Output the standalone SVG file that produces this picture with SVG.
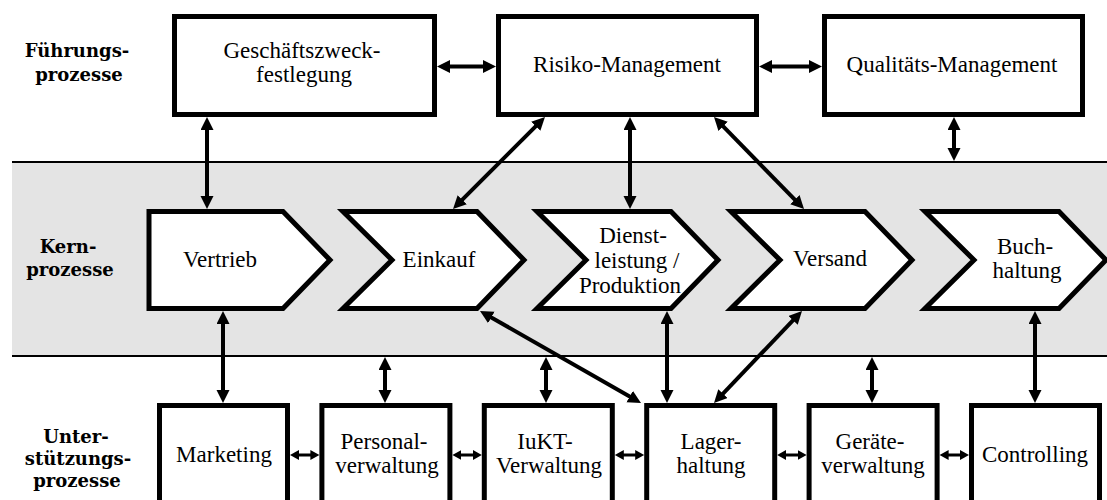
<svg xmlns="http://www.w3.org/2000/svg" width="1107" height="500" viewBox="0 0 1107 500">
<style>
.box{fill:#fff;stroke:#000;stroke-width:5;stroke-linejoin:miter}
.t{font-family:"Liberation Serif","Times New Roman",serif;font-size:23px;fill:#000;text-anchor:middle}
.lbl{font-family:"DejaVu Serif","Liberation Serif",serif;font-size:18px;font-weight:bold;fill:#000;text-anchor:middle}
.c{stroke:#000;stroke-width:4;fill:none;marker-start:url(#ah);marker-end:url(#ah)}
.cs{stroke:#000;stroke-width:3;fill:none;marker-start:url(#as);marker-end:url(#as)}
.band{stroke:#000;stroke-width:2}
</style>
<defs>
<marker id="ah" markerUnits="userSpaceOnUse" markerWidth="14" markerHeight="14" refX="3" refY="6.5" orient="auto-start-reverse"><path d="M0,0 L13,6.5 L0,13 z" fill="#000"/></marker>
<marker id="as" markerUnits="userSpaceOnUse" markerWidth="10" markerHeight="11" refX="2" refY="5" orient="auto-start-reverse"><path d="M0,0 L9,5 L0,10 z" fill="#000"/></marker>
</defs>
<rect x="0" y="0" width="1107" height="500" fill="#fff"/>
<g id="band">
<rect x="12" y="162" width="1095" height="194" fill="#e4e4e4"/>
<line class="band" x1="12" y1="162" x2="1107" y2="162"/>
<line class="band" x1="12" y1="356" x2="1107" y2="356"/>
</g>
<g id="labels">
<text class="lbl" x="77" y="57">Führungs-</text>
<text class="lbl" x="79" y="81">prozesse</text>
<text class="lbl" x="68" y="253">Kern-</text>
<text class="lbl" x="70" y="276">prozesse</text>
<text class="lbl" x="76" y="443">Unter-</text>
<text class="lbl" x="78" y="465">stützungs-</text>
<text class="lbl" x="77" y="487">prozesse</text>
</g>
<g id="connectors">
<line class="c" x1="447" y1="66.5" x2="486" y2="66.5"/>
<line class="c" x1="769" y1="66.5" x2="812" y2="66.5"/>
<line class="c" x1="207" y1="127" x2="207" y2="199"/>
<line class="c" x1="537.9" y1="124.1" x2="460.1" y2="201.9"/>
<line class="c" x1="630" y1="127" x2="630" y2="199"/>
<line class="c" x1="721" y1="124.2" x2="797" y2="201.8"/>
<line class="c" x1="954" y1="127" x2="954" y2="151"/>
<line class="c" x1="223" y1="321" x2="223" y2="393"/>
<line class="c" x1="488.7" y1="316" x2="632.3" y2="398"/>
<line class="c" x1="667" y1="321" x2="667" y2="393"/>
<line class="c" x1="795.1" y1="318.2" x2="720.9" y2="395.8"/>
<line class="c" x1="1035" y1="321" x2="1035" y2="393"/>
<line class="c" x1="385" y1="367" x2="385" y2="393"/>
<line class="c" x1="546" y1="367" x2="546" y2="393"/>
<line class="c" x1="872" y1="367" x2="872" y2="393"/>
<line class="cs" x1="297" y1="455" x2="312.4" y2="455"/>
<line class="cs" x1="459.4" y1="455" x2="474.8" y2="455"/>
<line class="cs" x1="621.8" y1="455" x2="637.2" y2="455"/>
<line class="cs" x1="784.2" y1="455" x2="799.6" y2="455"/>
<line class="cs" x1="946.6" y1="455" x2="962" y2="455"/>
</g>
<g id="geschaeftszweck">
<rect class="box" x="174.5" y="16.5" width="260" height="98"/>
<text class="t" x="302" y="58">Geschäftszweck-</text>
<text class="t" x="304" y="82">festlegung</text>
</g>
<g id="risiko">
<rect class="box" x="498.5" y="16.5" width="258" height="98"/>
<text class="t" x="627" y="72">Risiko-Management</text>
</g>
<g id="qualitaet">
<rect class="box" x="824.5" y="16.5" width="258" height="98"/>
<text class="t" x="952" y="72">Qualitäts-Management</text>
</g>
<g id="vertrieb">
<polygon class="box" points="149,211.5 283,211.5 330,260 283,308.5 149,308.5"/>
<text class="t" x="220" y="267">Vertrieb</text>
</g>
<g id="einkauf">
<polygon class="box" points="343,211.5 477,211.5 524,260 477,308.5 343,308.5 392,260"/>
<text class="t" x="439" y="267">Einkauf</text>
</g>
<g id="dienstleistung">
<polygon class="box" points="537,211.5 671,211.5 718,260 671,308.5 537,308.5 586,260"/>
<text class="t" x="633" y="243">Dienst-</text>
<text class="t" x="637" y="268">leistung /</text>
<text class="t" x="630" y="293">Produktion</text>
</g>
<g id="versand">
<polygon class="box" points="731,211.5 865,211.5 912,260 865,308.5 731,308.5 780,260"/>
<text class="t" x="830" y="266">Versand</text>
</g>
<g id="buchhaltung">
<polygon class="box" points="925,211.5 1059,211.5 1106,260 1059,308.5 925,308.5 974,260"/>
<text class="t" x="1025" y="254">Buch-</text>
<text class="t" x="1027" y="278">haltung</text>
</g>
<g id="marketing">
<rect class="box" x="159.5" y="405.5" width="128" height="120"/>
<text class="t" x="224" y="462">Marketing</text>
</g>
<g id="personalverwaltung">
<rect class="box" x="321.9" y="405.5" width="128" height="120"/>
<text class="t" x="384" y="449">Personal-</text>
<text class="t" x="387" y="473">verwaltung</text>
</g>
<g id="iukt">
<rect class="box" x="484.3" y="405.5" width="128" height="120"/>
<text class="t" x="545" y="449">IuKT-</text>
<text class="t" x="549" y="473">Verwaltung</text>
</g>
<g id="lagerhaltung">
<rect class="box" x="646.7" y="405.5" width="128" height="120"/>
<text class="t" x="711" y="449">Lager-</text>
<text class="t" x="711" y="473">haltung</text>
</g>
<g id="geraeteverwaltung">
<rect class="box" x="809.1" y="405.5" width="128" height="120"/>
<text class="t" x="870" y="449">Geräte-</text>
<text class="t" x="873" y="473">verwaltung</text>
</g>
<g id="controlling">
<rect class="box" x="971.5" y="405.5" width="128" height="120"/>
<text class="t" x="1035" y="462">Controlling</text>
</g>
</svg>
